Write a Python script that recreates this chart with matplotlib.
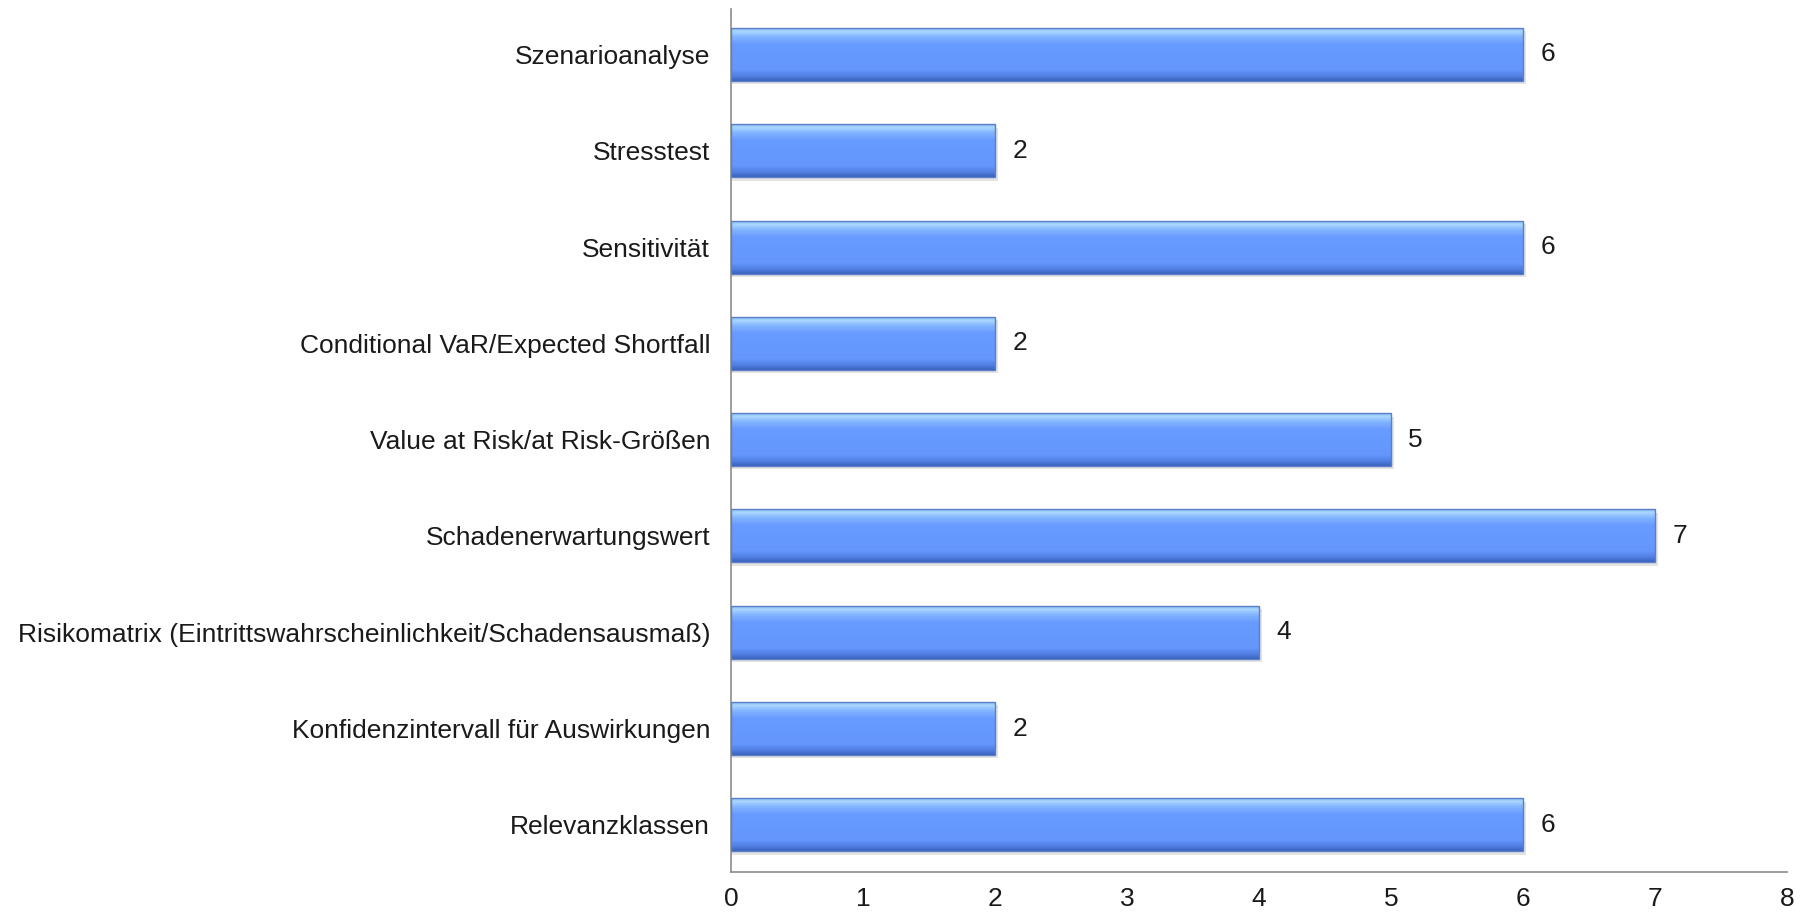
import numpy as np
import matplotlib
matplotlib.use("Agg")
import matplotlib.pyplot as plt

plt.rcParams['font.family'] = ['Liberation Sans', 'DejaVu Sans']

categories = [
    "Relevanzklassen",
    "Konfidenzintervall für Auswirkungen",
    "Risikomatrix (Eintrittswahrscheinlichkeit/Schadensausmaß)",
    "Schadenerwartungswert",
    "Value at Risk/at Risk-Größen",
    "Conditional VaR/Expected Shortfall",
    "Sensitivität",
    "Stresstest",
    "Szenarioanalyse",
]
values = [6, 2, 4, 7, 5, 2, 6, 2, 6]
x_ticks = [0, 1, 2, 3, 4, 5, 6, 7, 8]

fig = plt.figure(figsize=(18.08, 9.16), dpi=100)
ax = fig.add_axes([0.4043, 0.048, 0.5841, 0.942])

bar_h = 0.55
ypos = np.arange(len(categories))

# vertical shading for a bevelled bar look (top row first)
stops = np.array([0.0, 0.06, 0.16, 0.30, 0.80, 0.92, 1.0])
cols = np.array([
    [140, 190, 245],
    [170, 215, 255],
    [130, 180, 255],
    [104, 155, 255],
    [100, 150, 252],
    [80, 125, 225],
    [60, 100, 190],
]) / 255.0
t = np.linspace(0, 1, 64)
grad = np.stack([np.interp(t, stops, cols[:, k]) for k in range(3)], axis=1)
grad_img = grad[:, None, :]

for y, v in zip(ypos, values):
    # soft drop shadow
    ax.barh(y - 0.035, v + 0.02, height=bar_h, left=0.0, color='#b0b0b0',
            alpha=0.35, linewidth=0, zorder=1)
    ax.imshow(grad_img, extent=(0, v, y - bar_h / 2, y + bar_h / 2),
              origin='upper', aspect='auto', interpolation='bilinear', zorder=2)
    ax.barh(y, v, height=bar_h, color='none', edgecolor='#5a7fc8',
            linewidth=1.0, zorder=3)
    ax.text(v + 0.13, y, str(v), va='center', ha='left', fontsize=19,
            color='#1a1a1a')

ax.set_xlim(0, 8)
ax.set_ylim(-0.49, 8.47)
ax.set_xticks(x_ticks)
ax.set_xticklabels([str(x) for x in x_ticks], fontsize=19, color='#1a1a1a')
ax.set_yticks(ypos)
ax.set_yticklabels(categories, fontsize=19, color='#1a1a1a')
ax.tick_params(axis='both', length=0)
ax.tick_params(axis='y', pad=15)
ax.tick_params(axis='x', pad=11)

for s in ['top', 'right']:
    ax.spines[s].set_visible(False)
for s in ['left', 'bottom']:
    ax.spines[s].set_color('#8c8c8c')
    ax.spines[s].set_linewidth(1.2)

fig.savefig("out.png", dpi=100, facecolor='white')
